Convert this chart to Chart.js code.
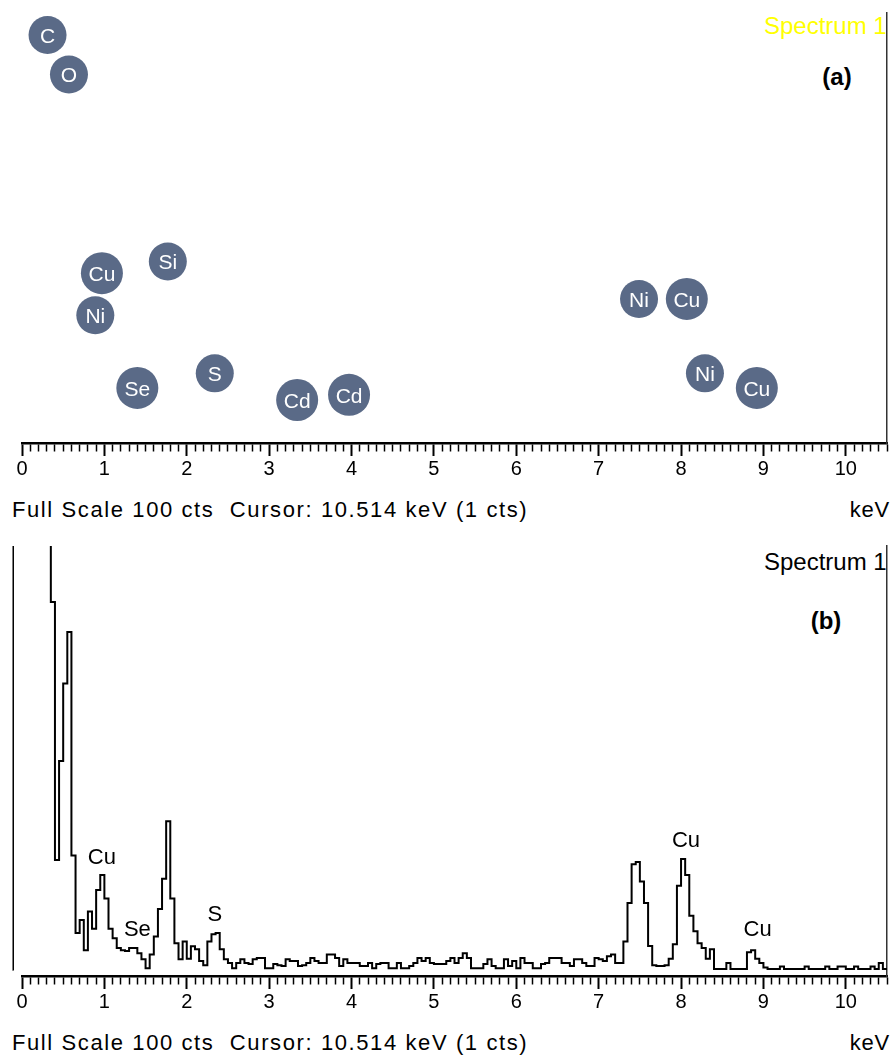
<!DOCTYPE html>
<html>
<head>
<meta charset="utf-8">
<script src="https://cdn.jsdelivr.net/npm/chart.js@4.4.0/dist/chart.umd.min.js"></script>
<style>
  html, body { margin: 0; padding: 0; background: #fff; }
  #page { position: relative; width: 891px; height: 1057px; overflow: hidden;
          font-family: "Liberation Sans", Arial, sans-serif; color: #000; }
  canvas { position: absolute; left: 0; z-index: 2; }
  .txt { position: absolute; z-index: 1; white-space: pre; line-height: 30px; height: 30px; }
  .foot { font-size: 22px; letter-spacing: 1.6px; left: 12px; }
  .kev { font-size: 22px; letter-spacing: 0.8px; right: 1px; }
  .spec { font-size: 24px; left: 764px; }
  .tag { font-size: 24px; font-weight: bold; width: 80px; text-align: center; }
</style>
</head>
<body>
<div id="page">
  <div class="txt spec" style="top:11px;color:#ffff00">Spectrum 1</div>
  <div class="txt tag" style="top:62px;left:797px">(a)</div>
  <div class="txt foot" style="top:495px">Full Scale 100 cts  Cursor: 10.514 keV (1 cts)</div>
  <div class="txt kev" style="top:495px">keV</div>

  <div class="txt spec" style="top:547px">Spectrum 1</div>
  <div class="txt tag" style="top:606px;left:786px">(b)</div>
  <div class="txt foot" style="top:1028px">Full Scale 100 cts  Cursor: 10.514 keV (1 cts)</div>
  <div class="txt kev" style="top:1028px">keV</div>

  <canvas id="chartA" width="891" height="500" style="top:0"></canvas>
  <canvas id="chartB" width="891" height="500" style="top:533px"></canvas>
</div>
<script>
// x axis: labelled ticks every 1 keV, minor ticks every 0.1 keV
const majorTicks = [0, 1, 2, 3, 4, 5, 6, 7, 8, 9, 10];
const minorStep = 0.1;
const xMax = 10.5;

// (a) element markers: label, energy (keV), height in the plot (0-100)
const elemLabels = ['C', 'O', 'Cu', 'Si', 'Ni', 'Se', 'S', 'Cd', 'Cd', 'Ni', 'Cu', 'Ni', 'Cu'];
const elemKeV    = [0.31, 0.57, 0.97, 1.77, 0.89, 1.40, 2.34, 3.34, 3.97, 7.49, 8.07, 8.29, 8.92];
const elemLevel  = [94.9, 85.7, 39.5, 42.2, 29.7, 12.8, 16.2, 10.0, 11.2, 33.5, 33.5, 16.2, 12.8];

// (b) spectrum, one value per channel (counts), channels of 0.05 keV from 0 keV
const channelStart = 0;
const channelWidth = 0.05;
const counts = [
  150, 150, 150, 150, 150, 150, 150, 87, 27, 50,
  68, 80, 28, 10, 13, 6, 15, 11, 20, 23.5,
  18, 11, 8.8, 6.5, 6, 5.8, 6.5, 6.5, 5.3, 3.9,
  1.8, 5, 9.2, 15.6, 22.6, 36, 18, 7.6, 3.9, 8,
  4, 6.9, 6.2, 3.5, 2.5, 8, 9.7, 10, 6.2, 3.9,
  3, 1.8, 3, 3.9, 3, 2.8, 3.9, 4.2, 4.2, 1.8,
  1.8, 2.8, 2.5, 2.3, 3.9, 3.5, 3.5, 2.3, 2.5, 3,
  4.2, 3.5, 3, 3, 5, 5, 4.2, 2.3, 3.9, 3,
  3, 3, 2.3, 2.3, 3, 1.8, 2.8, 3, 3, 1.8,
  1.8, 3, 1.8, 1.8, 2.3, 3, 4.2, 3.5, 4.2, 3,
  2.8, 2.8, 2.8, 3.5, 4.2, 3, 4.2, 5.3, 4.2, 1.8,
  1.8, 1.8, 2.8, 3.9, 2.3, 1.8, 1.8, 3.9, 2.3, 3.5,
  1.8, 4.2, 3, 3, 1.8, 1.8, 2.8, 3, 4.2, 4.2,
  4.2, 3, 3, 2.3, 3.9, 3.9, 3, 2.3, 2.3, 4.2,
  3.9, 3.5, 4.6, 5, 3, 3, 8, 17, 26, 26.5,
  22, 17, 7, 2.5, 2.3, 2.3, 2.5, 4, 7.4, 21,
  27.2, 23.5, 14, 10.4, 7.6, 6.5, 4, 6.2, 1.6, 1.6,
  1.6, 3, 1.6, 1.6, 1.6, 1.6, 5.5, 6, 4, 3,
  2, 1.6, 1.6, 1.6, 2.2, 1.6, 1.6, 1.6, 1.6, 1.6,
  2.2, 1.6, 1.6, 1.6, 1.6, 2.2, 1.6, 1.6, 2.2, 2.2,
  1.6, 1.6, 2.2, 1.6, 1.6, 1.6, 2.2, 1.6, 3, 1.6, 1.6
];

// zero-energy strobe at the left edge (drawn right to left)
const strobeKeV = [-0.101, -0.101, -0.109, -0.109];
const strobeCts = [1.4, 28, 28, 100];

// (b) peak labels
const peakLabels = ['Cu', 'Se', 'S', 'Cu', 'Cu'];
const peakKeV    = [0.97, 1.40, 2.34, 8.06, 8.93];
const peakCts    = [27.5, 10.6, 14.1, 31.4, 10.6];

const FONT = '"Liberation Sans", Arial, sans-serif';
const isMajor = t => t && Math.abs(t.value - Math.round(t.value)) < 1e-6;

function xAxis() {
  return {
    type: 'linear', min: 0, max: xMax,
    afterBuildTicks: s => {
      const t = [];
      for (let i = 0; i <= Math.round(xMax / minorStep); i++) t.push({ value: +(i * minorStep).toFixed(2) });
      s.ticks = t;
    },
    ticks: {
      autoSkip: false, maxRotation: 0, minRotation: 0, padding: 3, color: '#000',
      font: { family: FONT, size: 20, lineHeight: 1 },
      callback: v => {
        const r = Math.round(v);
        return Math.abs(v - r) < 1e-6 && majorTicks.includes(r) ? String(r) : '';
      }
    },
    grid: {
      drawOnChartArea: false, drawTicks: true, tickLength: 13, tickColor: '#000',
      tickWidth: c => isMajor(c.tick) ? 2 : 1.5,
      tickBorderDash: c => isMajor(c.tick) ? [] : [7, 40]
    },
    border: { display: true, color: '#000', width: 2.5 }
  };
}

function yAxis() {
  return {
    type: 'linear', min: 0, max: 100, position: 'right',
    ticks: { display: false },
    grid: { display: false, drawTicks: false },
    border: { display: true, color: '#333', width: 1.5 },
    afterFit: s => { s.width = 0; }
  };
}

const baseOptions = {
  responsive: false, animation: false, devicePixelRatio: 1,
  layout: { autoPadding: false, padding: { top: 13, left: 22, right: 4, bottom: 18 } },
  plugins: { legend: { display: false }, tooltip: { enabled: false } }
};

const bubbleText = {
  id: 'bubbleText',
  afterDatasetsDraw(chart) {
    const ctx = chart.ctx;
    const meta = chart.getDatasetMeta(0);
    ctx.save();
    ctx.fillStyle = '#fff';
    ctx.font = '21px ' + FONT;
    ctx.textAlign = 'center';
    ctx.textBaseline = 'middle';
    meta.data.forEach((el, i) => ctx.fillText(elemLabels[i], el.x, el.y + 2));
    ctx.restore();
  }
};

const peakText = {
  id: 'peakText',
  afterDatasetsDraw(chart) {
    const { ctx, scales: { x, y } } = chart;
    ctx.save();
    ctx.fillStyle = '#000';
    ctx.font = '22px ' + FONT;
    ctx.textAlign = 'center';
    ctx.textBaseline = 'middle';
    peakLabels.forEach((t, i) => ctx.fillText(t, x.getPixelForValue(peakKeV[i]), y.getPixelForValue(peakCts[i])));
    ctx.restore();
  }
};

new Chart(document.getElementById('chartA'), {
  type: 'bubble',
  data: {
    datasets: [{
      data: elemKeV.map((e, i) => ({ x: e, y: elemLevel[i] })),
      backgroundColor: '#5a6a87',
      borderWidth: 0,
      radius: c => (['C', 'O', 'S', 'Ni', 'Si'].includes(elemLabels[c.dataIndex]) ? 19 : 21)
    }]
  },
  options: { ...baseOptions, scales: { x: xAxis(), y: yAxis() } },
  plugins: [bubbleText]
});

new Chart(document.getElementById('chartB'), {
  type: 'line',
  data: {
    datasets: [{
      data: counts.map((c, i) => ({ x: channelStart + i * channelWidth, y: c })),
      borderColor: '#000', borderWidth: 2, pointRadius: 0, fill: false, stepped: 'before', tension: 0
    }, {
      data: strobeKeV.map((e, i) => ({ x: e, y: strobeCts[i] })),
      borderColor: '#000', borderWidth: 1.5, pointRadius: 0, fill: false, clip: false, tension: 0
    }]
  },
  options: { ...baseOptions, scales: { x: xAxis(), y: yAxis() } },
  plugins: [peakText]
});
</script>
</body>
</html>
